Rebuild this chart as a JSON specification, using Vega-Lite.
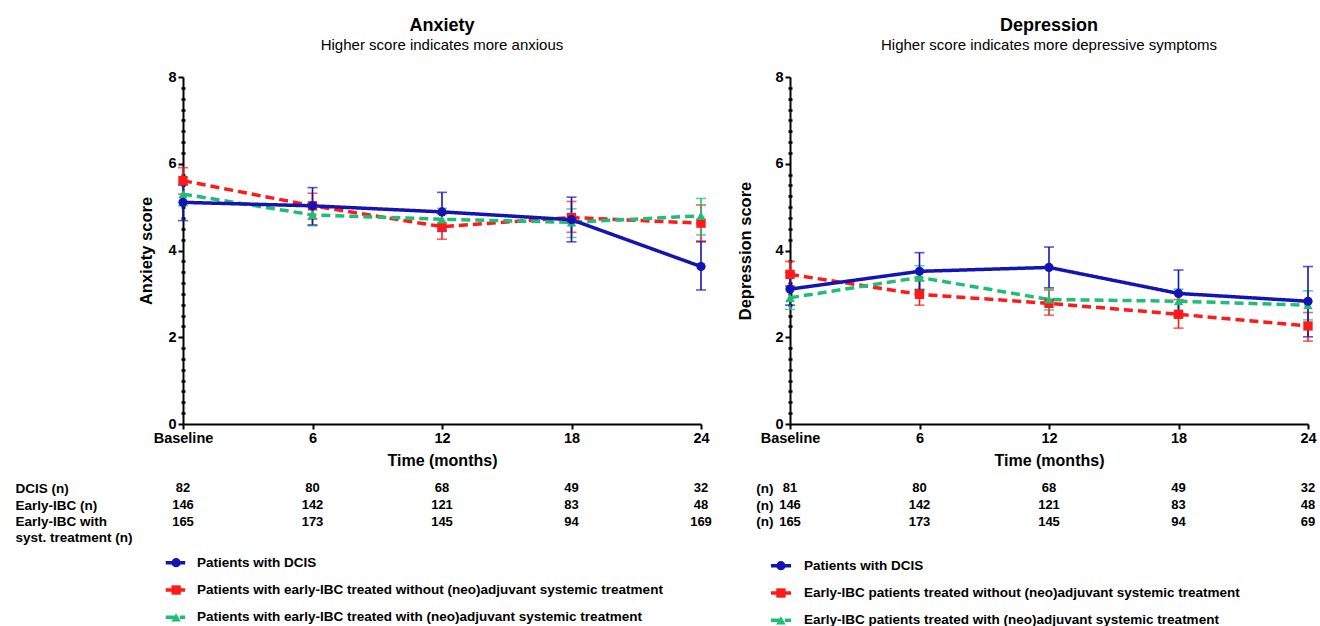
{
  "$schema": "https://vega.github.io/schema/vega-lite/v6.json",
  "background": "white",
  "padding": {"left": 15, "top": 17, "right": 5, "bottom": 0},
  "config": {
    "font": "Liberation Sans",
    "view": {"stroke": null},
    "axis": {"labelFont": "Liberation Sans", "titleFont": "Liberation Sans", "labelColor": "black", "titleColor": "black", "domainColor": "black", "tickColor": "black", "grid": false},
    "title": {"font": "Liberation Sans", "subtitleFont": "Liberation Sans", "color": "black", "subtitleColor": "black"},
    "text": {"font": "Liberation Sans"}
  },
  "datasets": {
    "scores": [
      {"panel": "A", "series": "nost", "time": 0, "mean": 5.61, "lo": 5.30, "hi": 5.91},
      {"panel": "A", "series": "nost", "time": 6, "mean": 5.03, "lo": 4.72, "hi": 5.32},
      {"panel": "A", "series": "nost", "time": 12, "mean": 4.55, "lo": 4.26, "hi": 4.84},
      {"panel": "A", "series": "nost", "time": 18, "mean": 4.76, "lo": 4.42, "hi": 5.13},
      {"panel": "A", "series": "nost", "time": 24, "mean": 4.63, "lo": 4.22, "hi": 5.05},
      {"panel": "A", "series": "st", "time": 0, "mean": 5.30, "lo": 5.03, "hi": 5.57},
      {"panel": "A", "series": "st", "time": 6, "mean": 4.82, "lo": 4.57, "hi": 5.05},
      {"panel": "A", "series": "st", "time": 12, "mean": 4.72, "lo": 4.48, "hi": 4.97},
      {"panel": "A", "series": "st", "time": 18, "mean": 4.65, "lo": 4.30, "hi": 4.96},
      {"panel": "A", "series": "st", "time": 24, "mean": 4.80, "lo": 4.36, "hi": 5.20},
      {"panel": "A", "series": "dcis", "time": 0, "mean": 5.11, "lo": 4.69, "hi": 5.51},
      {"panel": "A", "series": "dcis", "time": 6, "mean": 5.03, "lo": 4.59, "hi": 5.45},
      {"panel": "A", "series": "dcis", "time": 12, "mean": 4.89, "lo": 4.44, "hi": 5.34},
      {"panel": "A", "series": "dcis", "time": 18, "mean": 4.71, "lo": 4.20, "hi": 5.23},
      {"panel": "A", "series": "dcis", "time": 24, "mean": 3.63, "lo": 3.09, "hi": 4.20},
      {"panel": "B", "series": "nost", "time": 0, "mean": 3.45, "lo": 3.18, "hi": 3.75},
      {"panel": "B", "series": "nost", "time": 6, "mean": 2.99, "lo": 2.74, "hi": 3.30},
      {"panel": "B", "series": "nost", "time": 12, "mean": 2.78, "lo": 2.51, "hi": 3.09},
      {"panel": "B", "series": "nost", "time": 18, "mean": 2.53, "lo": 2.21, "hi": 2.87},
      {"panel": "B", "series": "nost", "time": 24, "mean": 2.26, "lo": 1.91, "hi": 2.57},
      {"panel": "B", "series": "st", "time": 0, "mean": 2.91, "lo": 2.64, "hi": 3.18},
      {"panel": "B", "series": "st", "time": 6, "mean": 3.38, "lo": 3.11, "hi": 3.65},
      {"panel": "B", "series": "st", "time": 12, "mean": 2.87, "lo": 2.63, "hi": 3.13},
      {"panel": "B", "series": "st", "time": 18, "mean": 2.83, "lo": 2.57, "hi": 3.11},
      {"panel": "B", "series": "st", "time": 24, "mean": 2.74, "lo": 2.40, "hi": 3.07},
      {"panel": "B", "series": "dcis", "time": 0, "mean": 3.11, "lo": 2.74, "hi": 3.49},
      {"panel": "B", "series": "dcis", "time": 6, "mean": 3.52, "lo": 3.09, "hi": 3.95},
      {"panel": "B", "series": "dcis", "time": 12, "mean": 3.61, "lo": 3.14, "hi": 4.08},
      {"panel": "B", "series": "dcis", "time": 18, "mean": 3.01, "lo": 2.47, "hi": 3.55},
      {"panel": "B", "series": "dcis", "time": 24, "mean": 2.83, "lo": 2.01, "hi": 3.63}
    ],
    "counts": [
      {"panel": "A", "row": "r1", "time": 0, "n": 82},
      {"panel": "A", "row": "r1", "time": 6, "n": 80},
      {"panel": "A", "row": "r1", "time": 12, "n": 68},
      {"panel": "A", "row": "r1", "time": 18, "n": 49},
      {"panel": "A", "row": "r1", "time": 24, "n": 32},
      {"panel": "A", "row": "r2", "time": 0, "n": 146},
      {"panel": "A", "row": "r2", "time": 6, "n": 142},
      {"panel": "A", "row": "r2", "time": 12, "n": 121},
      {"panel": "A", "row": "r2", "time": 18, "n": 83},
      {"panel": "A", "row": "r2", "time": 24, "n": 48},
      {"panel": "A", "row": "r3", "time": 0, "n": 165},
      {"panel": "A", "row": "r3", "time": 6, "n": 173},
      {"panel": "A", "row": "r3", "time": 12, "n": 145},
      {"panel": "A", "row": "r3", "time": 18, "n": 94},
      {"panel": "A", "row": "r3", "time": 24, "n": 169},
      {"panel": "B", "row": "r1", "time": 0, "n": 81},
      {"panel": "B", "row": "r1", "time": 6, "n": 80},
      {"panel": "B", "row": "r1", "time": 12, "n": 68},
      {"panel": "B", "row": "r1", "time": 18, "n": 49},
      {"panel": "B", "row": "r1", "time": 24, "n": 32},
      {"panel": "B", "row": "r2", "time": 0, "n": 146},
      {"panel": "B", "row": "r2", "time": 6, "n": 142},
      {"panel": "B", "row": "r2", "time": 12, "n": 121},
      {"panel": "B", "row": "r2", "time": 18, "n": 83},
      {"panel": "B", "row": "r2", "time": 24, "n": 48},
      {"panel": "B", "row": "r3", "time": 0, "n": 165},
      {"panel": "B", "row": "r3", "time": 6, "n": 173},
      {"panel": "B", "row": "r3", "time": 12, "n": 145},
      {"panel": "B", "row": "r3", "time": 18, "n": 94},
      {"panel": "B", "row": "r3", "time": 24, "n": 69}
    ],
    "legend": [
      {"panel": "A", "series": "dcis", "label": "Patients with DCIS"},
      {"panel": "A", "series": "nost", "label": "Patients with early-IBC treated without (neo)adjuvant systemic treatment"},
      {"panel": "A", "series": "st", "label": "Patients with early-IBC treated with (neo)adjuvant systemic treatment"},
      {"panel": "B", "series": "dcis", "label": "Patients with DCIS"},
      {"panel": "B", "series": "nost", "label": "Early-IBC patients treated without (neo)adjuvant systemic treatment"},
      {"panel": "B", "series": "st", "label": "Early-IBC patients treated with (neo)adjuvant systemic treatment"}
    ]
  },
  "spacing": 25,
  "hconcat": [
    {
      "spacing": 11,
      "vconcat": [
        {
          "width": 518,
          "height": 347,
          "title": {"text": "Anxiety", "subtitle": "Higher score indicates more anxious", "fontSize": 18, "fontWeight": "bold", "subtitleFontSize": 15, "subtitlePadding": 3, "anchor": "middle", "offset": 16},
          "data": {"name": "scores"},
          "transform": [{"filter": "datum.panel == 'A'"}],
          "encoding": {
            "x": {"field": "time", "type": "quantitative", "scale": {"domain": [0, 24]},
              "axis": {"values": [0, 6, 12, 18, 24], "labelExpr": "datum.value == 0 ? 'Baseline' : datum.label", "title": "Time (months)", "titleFontSize": 16, "titleFontWeight": "bold", "labelFontSize": 14.5, "labelFontWeight": "bold", "labelFlush": false, "labelOverlap": false, "domainWidth": 2, "tickWidth": 2, "tickSize": 5, "labelPadding": 2, "titlePadding": 8}},
            "color": {"field": "series", "type": "nominal", "scale": {"domain": ["dcis", "nost", "st"], "range": ["#1414b4", "#ff1a1a", "#1fbe76"]}, "legend": null}
          },
          "layer": [
            {
              "mark": {"type": "errorbar", "ticks": true, "size": 10, "thickness": 1.6},
              "encoding": {
                "y": {"field": "lo", "type": "quantitative", "scale": {"domain": [0, 8]},
                  "axis": {"values": [0, 2, 4, 6, 8], "title": "Anxiety score", "titleFontSize": 16.5, "titleFontWeight": "bold", "labelFontSize": 14.5, "labelFontWeight": "bold", "domainWidth": 2, "tickWidth": 2, "tickSize": 5, "labelPadding": 2, "titlePadding": 13}},
                "y2": {"field": "hi"}
              }
            },
            {
              "mark": {"type": "line", "strokeWidth": 3.5},
              "encoding": {
                "y": {"field": "mean", "type": "quantitative",
                  "axis": {"orient": "left", "values": [0.25, 0.5, 0.75, 1, 1.25, 1.5, 1.75, 2.25, 2.5, 2.75, 3, 3.25, 3.5, 3.75, 4.25, 4.5, 4.75, 5, 5.25, 5.5, 5.75, 6.25, 6.5, 6.75, 7, 7.25, 7.5, 7.75], "labels": false, "domain": false, "title": null, "tickSize": 4, "tickWidth": 2.5, "offset": -2}},
                "strokeDash": {"field": "series", "type": "nominal", "scale": {"domain": ["dcis", "nost", "st"], "range": [[1, 0], [9, 5], [9, 5]]}, "legend": null}
              }
            },
            {
              "mark": {"type": "point", "filled": true, "opacity": 1},
              "encoding": {
                "y": {"field": "mean", "type": "quantitative", "axis": null},
                "shape": {"field": "series", "type": "nominal", "scale": {"domain": ["dcis", "nost", "st"], "range": ["circle", "square", "triangle-up"]}, "legend": null},
                "size": {"field": "series", "type": "ordinal", "scale": {"domain": ["dcis", "nost", "st"], "range": [85, 90, 45]}, "legend": null}
              }
            }
          ],
          "resolve": {"axis": {"y": "independent"}}
        },
        {
          "spacing": 4,
          "vconcat": [
            {
              "width": 518,
              "height": 50,
              "data": {"name": "counts"},
              "transform": [{"filter": "datum.panel == 'A'"}],
              "mark": {"type": "text", "fontWeight": "bold", "fontSize": 13, "baseline": "middle"},
              "encoding": {
                "x": {"field": "time", "type": "quantitative", "scale": {"domain": [0, 24]}, "axis": null},
                "y": {"field": "row", "type": "ordinal", "sort": ["r1", "r2", "r3"], "scale": {"type": "point", "padding": 0.5},
                  "axis": {"title": null, "domain": false, "ticks": false, "labelAlign": "left", "labelBaseline": "top", "labelOffset": -7, "labelPadding": 168, "labelFontSize": 13.5, "labelFontWeight": "bold", "labelLineHeight": 16, "labelExpr": "datum.value == 'r1' ? 'DCIS (n)' : datum.value == 'r2' ? 'Early-IBC (n)' : ['Early-IBC with', 'syst. treatment (n)']"}},
                "text": {"field": "n", "type": "quantitative"}
              }
            },
            {
              "width": 518,
              "height": 82,
              "data": {"name": "legend"},
              "transform": [{"filter": "datum.panel == 'A'"}],
              "encoding": {
                "y": {"field": "series", "type": "nominal", "sort": ["dcis", "nost", "st"], "scale": {"type": "point", "padding": 0.5}, "axis": null},
                "color": {"field": "series", "type": "nominal", "scale": {"domain": ["dcis", "nost", "st"], "range": ["#1414b4", "#ff1a1a", "#1fbe76"]}, "legend": null}
              },
              "layer": [
                {
                  "mark": {"type": "rule", "strokeWidth": 3.5},
                  "encoding": {
                    "x": {"datum": -0.8, "type": "quantitative", "scale": {"domain": [0, 24]}, "axis": null},
                    "x2": {"datum": 0.1},
                    "strokeDash": {"field": "series", "type": "nominal", "scale": {"domain": ["dcis", "nost", "st"], "range": [[1, 0], [9, 5], [9, 5]]}, "legend": null}
                  }
                },
                {
                  "mark": {"type": "point", "filled": true, "opacity": 1},
                  "encoding": {
                    "x": {"datum": -0.32, "type": "quantitative"},
                    "shape": {"field": "series", "type": "nominal", "scale": {"domain": ["dcis", "nost", "st"], "range": ["circle", "square", "triangle-up"]}, "legend": null},
                    "size": {"field": "series", "type": "ordinal", "scale": {"domain": ["dcis", "nost", "st"], "range": [85, 90, 60]}, "legend": null}
                  }
                },
                {
                  "mark": {"type": "text", "align": "left", "baseline": "middle", "fontWeight": "bold", "fontSize": 13.5},
                  "encoding": {
                    "x": {"datum": 0.65, "type": "quantitative"},
                    "text": {"field": "label", "type": "nominal"},
                    "color": {"value": "black"}
                  }
                }
              ]
            }
          ]
        }
      ]
    },
    {
      "spacing": 11,
      "vconcat": [
        {
          "width": 518,
          "height": 347,
          "title": {"text": "Depression", "subtitle": "Higher score indicates more depressive symptoms", "fontSize": 18, "fontWeight": "bold", "subtitleFontSize": 15, "subtitlePadding": 3, "anchor": "middle", "offset": 16},
          "data": {"name": "scores"},
          "transform": [{"filter": "datum.panel == 'B'"}],
          "encoding": {
            "x": {"field": "time", "type": "quantitative", "scale": {"domain": [0, 24]},
              "axis": {"values": [0, 6, 12, 18, 24], "labelExpr": "datum.value == 0 ? 'Baseline' : datum.label", "title": "Time (months)", "titleFontSize": 16, "titleFontWeight": "bold", "labelFontSize": 14.5, "labelFontWeight": "bold", "labelFlush": false, "labelOverlap": false, "domainWidth": 2, "tickWidth": 2, "tickSize": 5, "labelPadding": 2, "titlePadding": 8}},
            "color": {"field": "series", "type": "nominal", "scale": {"domain": ["dcis", "nost", "st"], "range": ["#1414b4", "#ff1a1a", "#1fbe76"]}, "legend": null}
          },
          "layer": [
            {
              "mark": {"type": "errorbar", "ticks": true, "size": 10, "thickness": 1.6},
              "encoding": {
                "y": {"field": "lo", "type": "quantitative", "scale": {"domain": [0, 8]},
                  "axis": {"values": [0, 2, 4, 6, 8], "title": "Depression score", "titleFontSize": 16.5, "titleFontWeight": "bold", "labelFontSize": 14.5, "labelFontWeight": "bold", "domainWidth": 2, "tickWidth": 2, "tickSize": 5, "labelPadding": 2, "titlePadding": 21}},
                "y2": {"field": "hi"}
              }
            },
            {
              "mark": {"type": "line", "strokeWidth": 3.5},
              "encoding": {
                "y": {"field": "mean", "type": "quantitative",
                  "axis": {"orient": "left", "values": [0.25, 0.5, 0.75, 1, 1.25, 1.5, 1.75, 2.25, 2.5, 2.75, 3, 3.25, 3.5, 3.75, 4.25, 4.5, 4.75, 5, 5.25, 5.5, 5.75, 6.25, 6.5, 6.75, 7, 7.25, 7.5, 7.75], "labels": false, "domain": false, "title": null, "tickSize": 4, "tickWidth": 2.5, "offset": -2}},
                "strokeDash": {"field": "series", "type": "nominal", "scale": {"domain": ["dcis", "nost", "st"], "range": [[1, 0], [9, 5], [9, 5]]}, "legend": null}
              }
            },
            {
              "mark": {"type": "point", "filled": true, "opacity": 1},
              "encoding": {
                "y": {"field": "mean", "type": "quantitative", "axis": null},
                "shape": {"field": "series", "type": "nominal", "scale": {"domain": ["dcis", "nost", "st"], "range": ["circle", "square", "triangle-up"]}, "legend": null},
                "size": {"field": "series", "type": "ordinal", "scale": {"domain": ["dcis", "nost", "st"], "range": [85, 90, 45]}, "legend": null}
              }
            }
          ],
          "resolve": {"axis": {"y": "independent"}}
        },
        {
          "spacing": 22,
          "vconcat": [
            {
              "width": 518,
              "height": 50,
              "data": {"name": "counts"},
              "transform": [{"filter": "datum.panel == 'B'"}],
              "mark": {"type": "text", "fontWeight": "bold", "fontSize": 13, "baseline": "middle"},
              "encoding": {
                "x": {"field": "time", "type": "quantitative", "scale": {"domain": [0, 24]}, "axis": null},
                "y": {"field": "row", "type": "ordinal", "sort": ["r1", "r2", "r3"], "scale": {"type": "point", "padding": 0.5},
                  "axis": {"title": null, "domain": false, "ticks": false, "labelPadding": 17, "labelFontSize": 13.5, "labelFontWeight": "bold", "labelExpr": "'(n)'"}},
                "text": {"field": "n", "type": "quantitative"}
              }
            },
            {
              "width": 518,
              "height": 82,
              "data": {"name": "legend"},
              "transform": [{"filter": "datum.panel == 'B'"}],
              "encoding": {
                "y": {"field": "series", "type": "nominal", "sort": ["dcis", "nost", "st"], "scale": {"type": "point", "padding": 0.5}, "axis": null},
                "color": {"field": "series", "type": "nominal", "scale": {"domain": ["dcis", "nost", "st"], "range": ["#1414b4", "#ff1a1a", "#1fbe76"]}, "legend": null}
              },
              "layer": [
                {
                  "mark": {"type": "rule", "strokeWidth": 3.5},
                  "encoding": {
                    "x": {"datum": -0.88, "type": "quantitative", "scale": {"domain": [0, 24]}, "axis": null},
                    "x2": {"datum": 0.05},
                    "strokeDash": {"field": "series", "type": "nominal", "scale": {"domain": ["dcis", "nost", "st"], "range": [[1, 0], [9, 5], [9, 5]]}, "legend": null}
                  }
                },
                {
                  "mark": {"type": "point", "filled": true, "opacity": 1},
                  "encoding": {
                    "x": {"datum": -0.42, "type": "quantitative"},
                    "shape": {"field": "series", "type": "nominal", "scale": {"domain": ["dcis", "nost", "st"], "range": ["circle", "square", "triangle-up"]}, "legend": null},
                    "size": {"field": "series", "type": "ordinal", "scale": {"domain": ["dcis", "nost", "st"], "range": [85, 90, 60]}, "legend": null}
                  }
                },
                {
                  "mark": {"type": "text", "align": "left", "baseline": "middle", "fontWeight": "bold", "fontSize": 13.5},
                  "encoding": {
                    "x": {"datum": 0.65, "type": "quantitative"},
                    "text": {"field": "label", "type": "nominal"},
                    "color": {"value": "black"}
                  }
                }
              ]
            }
          ]
        }
      ]
    }
  ]
}
